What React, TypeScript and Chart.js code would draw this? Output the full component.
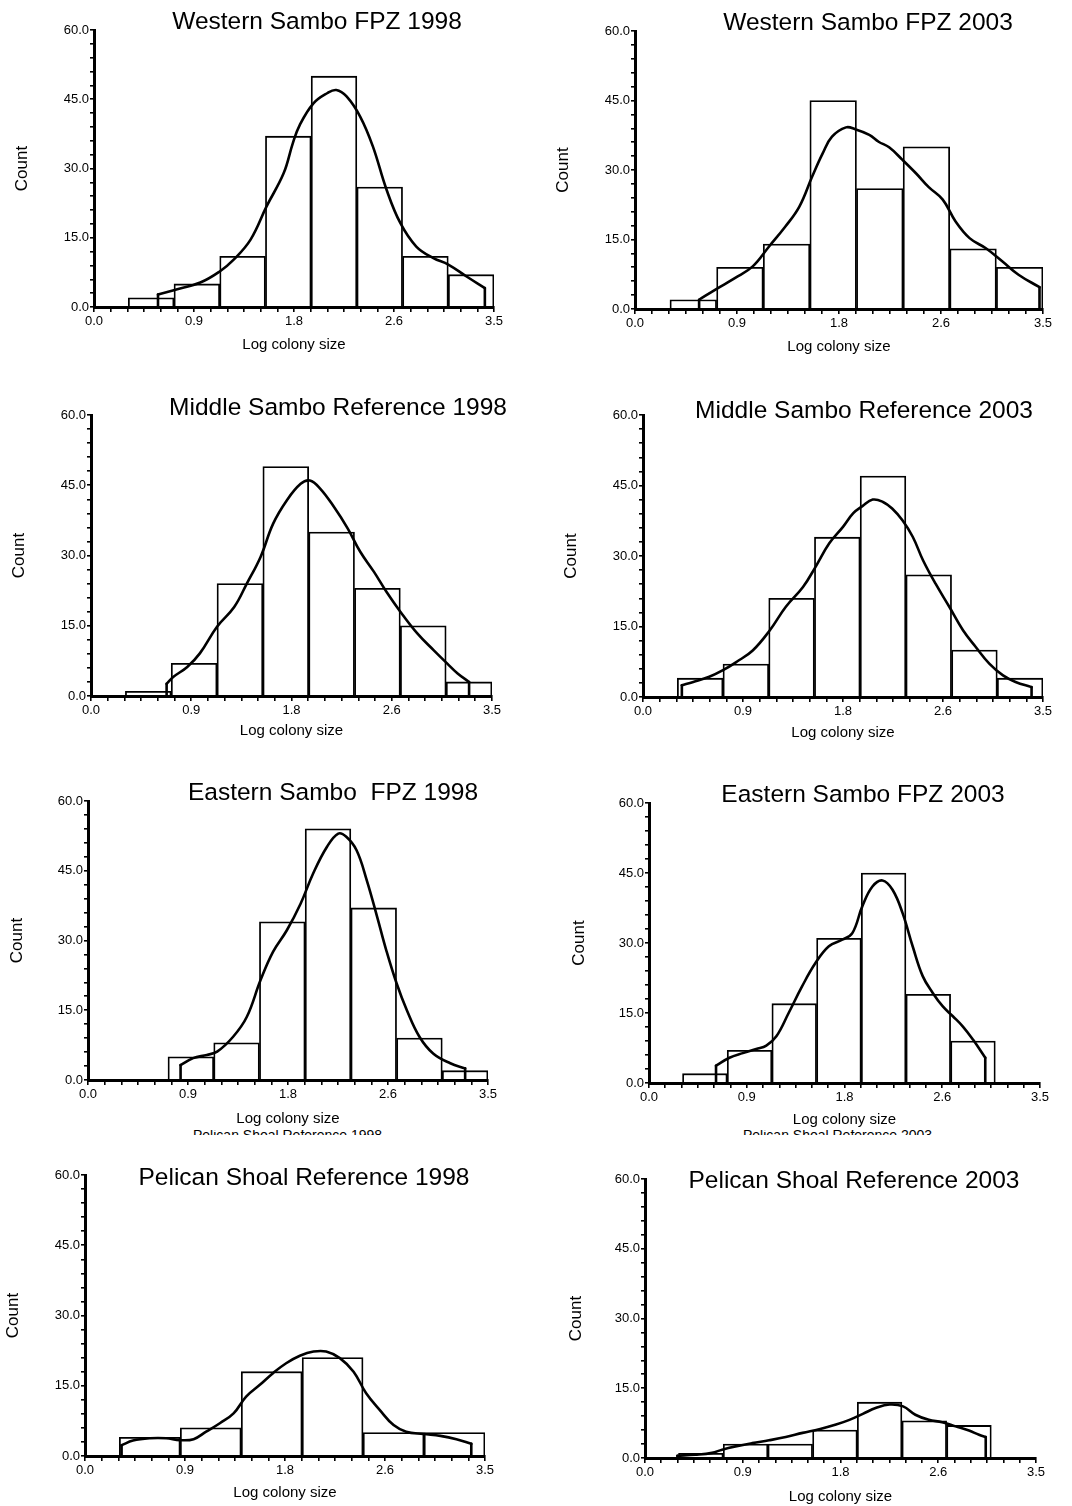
import React, { useEffect, useRef } from "react";
import { Chart, registerables } from "chart.js";

Chart.register(...registerables);
Chart.defaults.font.family = "'Liberation Sans', Arial, Helvetica, sans-serif";
Chart.defaults.color = "#000";

// ---------- data ----------
const BIN_EDGES_8 = [0.3, 0.7, 1.1, 1.5, 1.9, 2.3, 2.7, 3.1, 3.5];
const BIN_EDGES_6 = [0.3, 0.833, 1.367, 1.9, 2.433, 2.967, 3.5];
const X_TICK_LABELS = ["0.0", "0.9", "1.8", "2.6", "3.5"];
const Y_TICK_LABELS = ["0.0", "15.0", "30.0", "45.0", "60.0"];
const X_TITLE = "Log colony size";
const Y_TITLE = "Count";

const TITLES = [
  "Western Sambo FPZ 1998",
  "Western Sambo FPZ 2003",
  "Middle Sambo Reference 1998",
  "Middle Sambo Reference 2003",
  "Eastern Sambo  FPZ 1998",
  "Eastern Sambo FPZ 2003",
  "Pelican Shoal Reference 1998",
  "Pelican Shoal Reference 2003",
];
// captions of the next row, cut off at the bottom of the Eastern Sambo panels
const CUT_CAPTIONS = ["Pelican Shoal Reference 1998", "Pelican Shoal Reference 2003"];

const WS98_COUNTS = [2, 5, 11, 37, 50, 26, 11, 7];
const WS98_CURVE_X = [0.56, 0.69, 0.93, 1.1, 1.22, 1.37, 1.51, 1.66, 1.74, 1.8, 1.92, 2.04, 2.12, 2.21, 2.33, 2.44, 2.56, 2.68, 2.82, 2.97, 3.1, 3.26, 3.42];
const WS98_CURVE_Y = [2.7, 3.6, 5.3, 7.7, 10.2, 14.6, 21.8, 29.0, 35.5, 39.4, 44.1, 46.3, 47.0, 45.6, 41.2, 34.8, 25.4, 18.2, 13.1, 10.6, 9.2, 6.6, 4.1];

const WS03_COUNTS = [2, 9, 14, 45, 26, 35, 13, 9];
const WS03_CURVE_X = [0.55, 0.69, 0.86, 1.01, 1.15, 1.29, 1.41, 1.52, 1.61, 1.69, 1.81, 1.89, 2.01, 2.09, 2.18, 2.29, 2.41, 2.52, 2.64, 2.75, 2.87, 3.01, 3.15, 3.29, 3.47];
const WS03_CURVE_Y = [2.0, 4.2, 6.7, 9.2, 13.5, 17.8, 22.1, 28.6, 33.6, 37.2, 39.2, 38.8, 37.6, 36.1, 34.9, 32.3, 29.3, 26.3, 23.6, 18.9, 15.3, 13.1, 10.3, 7.4, 4.7];

const MS98_COUNTS = [1, 7, 24, 49, 35, 23, 15, 3];
const MS98_CURVE_X = [0.66, 0.72, 0.84, 0.95, 1.1, 1.25, 1.36, 1.48, 1.59, 1.71, 1.83, 1.91, 2.0, 2.12, 2.24, 2.35, 2.47, 2.58, 2.7, 2.85, 2.99, 3.11, 3.2, 3.3];
const MS98_CURVE_Y = [2.6, 4.1, 6.2, 9.1, 14.8, 19.0, 24.0, 29.7, 36.8, 41.8, 45.3, 46.0, 44.3, 40.4, 35.8, 30.8, 26.5, 22.2, 18.0, 13.3, 9.8, 6.9, 4.8, 3.0];

const MS03_COUNTS = [4, 7, 21, 34, 47, 26, 10, 4];
const MS03_CURVE_X = [0.34, 0.44, 0.58, 0.7, 0.82, 0.96, 1.11, 1.25, 1.4, 1.51, 1.63, 1.75, 1.84, 1.92, 2.01, 2.1, 2.18, 2.27, 2.36, 2.45, 2.56, 2.68, 2.8, 2.91, 3.03, 3.15, 3.26, 3.4];
const MS03_CURVE_Y = [2.5, 3.2, 4.3, 5.7, 7.5, 9.9, 14.2, 19.2, 23.4, 27.7, 32.7, 36.2, 39.1, 40.6, 42.0, 41.5, 40.1, 37.6, 34.1, 29.1, 24.1, 19.2, 14.2, 10.7, 7.1, 4.6, 3.2, 2.1];

const ES98_COUNTS = [0, 5, 8, 34, 54, 37, 9, 2];
const ES98_CURVE_X = [0.81, 0.92, 1.04, 1.13, 1.27, 1.39, 1.51, 1.62, 1.74, 1.86, 1.97, 2.09, 2.19, 2.26, 2.35, 2.44, 2.53, 2.61, 2.7, 2.79, 2.9, 3.02, 3.17, 3.3];
const ES98_CURVE_Y = [3.2, 4.7, 5.4, 6.1, 9.3, 13.6, 21.5, 27.6, 32.2, 37.9, 44.4, 50.1, 53.0, 52.3, 49.4, 42.9, 35.1, 27.9, 20.8, 15.0, 9.3, 5.7, 3.6, 2.5];

const ES03_COUNTS = [2, 7, 17, 31, 45, 19, 9, 0];
const ES03_CURVE_X = [0.6, 0.72, 0.84, 0.96, 1.05, 1.14, 1.25, 1.37, 1.49, 1.61, 1.73, 1.82, 1.91, 2.0, 2.09, 2.18, 2.27, 2.36, 2.45, 2.54, 2.63, 2.72, 2.81, 2.9, 3.01];
const ES03_CURVE_Y = [3.7, 5.4, 6.4, 7.3, 8.0, 10.0, 15.0, 20.7, 25.7, 29.3, 30.7, 32.1, 37.9, 42.1, 43.4, 41.4, 36.4, 29.3, 22.9, 19.3, 16.4, 14.3, 12.1, 9.3, 5.4];

const PS98_COUNTS = [4, 6, 18, 21, 5, 5];
const PS98_CURVE_X = [0.32, 0.42, 0.57, 0.71, 0.83, 0.95, 1.06, 1.18, 1.3, 1.41, 1.53, 1.65, 1.76, 1.88, 2.0, 2.11, 2.23, 2.35, 2.46, 2.58, 2.7, 2.81, 2.96, 3.11, 3.25, 3.38];
const PS98_CURVE_Y = [2.3, 3.3, 3.8, 3.8, 3.4, 3.6, 5.2, 7.0, 9.1, 12.7, 15.2, 17.8, 19.8, 21.4, 22.3, 22.3, 20.9, 18.0, 13.4, 9.8, 6.6, 5.2, 4.7, 4.3, 3.6, 2.6];

const PS03_COUNTS = [1, 3, 3, 6, 12, 8, 7, 0];
const PS03_CURVE_X = [0.29, 0.45, 0.6, 0.69, 0.81, 0.96, 1.11, 1.26, 1.41, 1.56, 1.71, 1.83, 1.95, 2.07, 2.19, 2.31, 2.42, 2.54, 2.66, 2.78, 2.9, 2.99, 3.05];
const PS03_CURVE_Y = [0.5, 0.7, 1.1, 1.8, 2.5, 3.2, 3.8, 4.5, 5.4, 6.2, 7.2, 8.2, 9.5, 10.8, 11.5, 11.1, 9.3, 8.2, 7.7, 6.8, 5.9, 5.0, 4.5];

const PANELS = [
  { title: TITLES[0], edges: BIN_EDGES_8, counts: WS98_COUNTS, cx: WS98_CURVE_X, cy: WS98_CURVE_Y },
  { title: TITLES[1], edges: BIN_EDGES_8, counts: WS03_COUNTS, cx: WS03_CURVE_X, cy: WS03_CURVE_Y },
  { title: TITLES[2], edges: BIN_EDGES_8, counts: MS98_COUNTS, cx: MS98_CURVE_X, cy: MS98_CURVE_Y },
  { title: TITLES[3], edges: BIN_EDGES_8, counts: MS03_COUNTS, cx: MS03_CURVE_X, cy: MS03_CURVE_Y },
  { title: TITLES[4], edges: BIN_EDGES_8, counts: ES98_COUNTS, cx: ES98_CURVE_X, cy: ES98_CURVE_Y },
  { title: TITLES[5], edges: BIN_EDGES_8, counts: ES03_COUNTS, cx: ES03_CURVE_X, cy: ES03_CURVE_Y },
  { title: TITLES[6], edges: BIN_EDGES_6, counts: PS98_COUNTS, cx: PS98_CURVE_X, cy: PS98_CURVE_Y },
  { title: TITLES[7], edges: BIN_EDGES_8, counts: PS03_COUNTS, cx: PS03_CURVE_X, cy: PS03_CURVE_Y },
];

// ---------- layout (page pixels) ----------
const LAYOUT = [
  { axisX: 94, top: 30, right: 494, bottom: 307, countX: 22, xLabelY: 345, tx: 317, ty: 22 },
  { axisX: 635, top: 31, right: 1043, bottom: 309, countX: 563, xLabelY: 347, tx: 868, ty: 23 },
  { axisX: 91, top: 415, right: 492, bottom: 696, countX: 19, xLabelY: 731, tx: 338, ty: 408 },
  { axisX: 643, top: 415, right: 1043, bottom: 697, countX: 571, xLabelY: 733, tx: 864, ty: 411 },
  { axisX: 88, top: 801, right: 488, bottom: 1080, countX: 17, xLabelY: 1119, tx: 333, ty: 793 },
  { axisX: 649, top: 803, right: 1040, bottom: 1083, countX: 579, xLabelY: 1120, tx: 863, ty: 795 },
  { axisX: 85, top: 1175, right: 485, bottom: 1456, countX: 13, xLabelY: 1493, tx: 304, ty: 1178 },
  { axisX: 645, top: 1179, right: 1036, bottom: 1458, countX: 576, xLabelY: 1497, tx: 854, ty: 1181 },
];
const CUT_LAYOUT = [
  { left: 193, top: 1130, width: 200 },
  { left: 743, top: 1130, width: 200 },
];

const PT = 28;
const PR = 16;
const Y_TITLE_SIZE = 17;
const X_TITLE_SIZE = 15;
const TICK_SIZE = 13;
const FONT = "'Liberation Sans', Arial, Helvetica, sans-serif";

function geometry(l: any) {
  const canvasLeft = Math.round(l.countX - (Y_TITLE_SIZE * 1.2) / 2);
  const canvasTop = l.top - PT;
  const wy = l.axisX - canvasLeft;
  const hx = Math.round(l.xLabelY + (X_TITLE_SIZE * 1.2) / 2 - l.bottom);
  const width = wy + (l.right - l.axisX) + PR;
  const height = PT + (l.bottom - l.top) + hx;
  return { canvasLeft, canvasTop, wy, hx, width, height };
}

const panelTitlePlugin = {
  id: "panelTitle",
  afterDraw(chart: any, _args: any, opts: any) {
    const ctx = chart.ctx;
    ctx.save();
    ctx.font = `${opts.size}px ${FONT}`;
    ctx.fillStyle = "#000";
    ctx.textAlign = "center";
    ctx.textBaseline = "middle";
    ctx.fillText(opts.text, opts.x, opts.y);
    ctx.restore();
  },
};

function Panel({ spec, layout }: { spec: any; layout: any }) {
  const ref = useRef<HTMLCanvasElement | null>(null);
  const g = geometry(layout);

  useEffect(() => {
    if (!ref.current) return;
    const edges: number[] = spec.edges;
    const centers = edges.slice(0, -1).map((e, i) => (e + edges[i + 1]) / 2);
    const bars = spec.counts.map((c: number, i: number) => ({ x: centers[i], y: c }));
    const curve = spec.cx.map((x: number, i: number) => ({ x, y: spec.cy[i] }));
    const n = curve.length;
    const dropStart = [{ x: spec.cx[0], y: 0 }, curve[0]];
    const dropEnd = [curve[n - 1], { x: spec.cx[n - 1], y: 0 }];

    const lineBase = {
      type: "line" as const,
      xAxisID: "x",
      yAxisID: "y",
      borderColor: "#000",
      borderWidth: 2.6,
      pointRadius: 0,
      fill: false,
      order: 0,
      borderJoinStyle: "round",
      borderCapStyle: "round",
    };

    const chart = new Chart(ref.current, {
      type: "line",
      data: {
        datasets: [
          { ...lineBase, data: curve, tension: 0.4 } as any,
          { ...lineBase, data: dropStart, tension: 0 } as any,
          { ...lineBase, data: dropEnd, tension: 0 } as any,
          {
            type: "bar",
            data: bars,
            xAxisID: "x2",
            yAxisID: "y",
            backgroundColor: "#fff",
            borderColor: "#000",
            borderWidth: 1.8,
            barPercentage: 1,
            categoryPercentage: 1,
            grouped: false,
            order: 1,
          } as any,
        ],
      },
      options: {
        responsive: false,
        animation: false,
        devicePixelRatio: 1,
        events: [],
        layout: { padding: { top: PT, right: PR, left: 0, bottom: 0 } },
        plugins: {
          legend: { display: false },
          tooltip: { enabled: false },
          title: { display: false },
          panelTitle: {
            text: spec.title,
            size: 24.5,
            x: layout.tx - g.canvasLeft,
            y: layout.ty - g.canvasTop,
          },
        } as any,
        scales: {
          x: {
            type: "linear",
            position: "bottom",
            min: 0,
            max: 3.5,
            offset: false,
            afterBuildTicks: (s: any) => {
              s.ticks = Array.from({ length: 25 }, (_, i) => ({ value: (3.5 * i) / 24 }));
            },
            afterFit: (s: any) => {
              s.height = g.hx;
            },
            ticks: {
              autoSkip: false,
              maxRotation: 0,
              minRotation: 0,
              padding: 2,
              color: "#000",
              font: { size: TICK_SIZE },
              callback: (_v: any, i: number) => (i % 6 === 0 ? X_TICK_LABELS[i / 6] : ""),
            },
            grid: {
              drawOnChartArea: false,
              drawTicks: true,
              tickLength: 5,
              color: "#000",
              lineWidth: 1.6,
              offset: false,
            },
            border: { display: true, color: "#000", width: 3, z: 1 },
            title: {
              display: true,
              text: X_TITLE,
              color: "#000",
              font: { size: X_TITLE_SIZE },
              padding: 0,
            },
          } as any,
          x2: {
            type: "linear",
            axis: "x",
            position: "bottom",
            display: false,
            min: 0,
            max: 3.5,
            offset: false,
            afterBuildTicks: (s: any) => {
              s.ticks = [{ value: 0 }, { value: 3.5 }];
            },
          } as any,
          y: {
            type: "linear",
            position: "left",
            min: 0,
            max: 60,
            afterBuildTicks: (s: any) => {
              s.ticks = Array.from({ length: 21 }, (_, i) => ({ value: 3 * i }));
            },
            afterFit: (s: any) => {
              s.width = g.wy;
            },
            ticks: {
              autoSkip: false,
              padding: 1,
              color: "#000",
              font: { size: TICK_SIZE },
              callback: (v: any) => (v % 15 === 0 ? Y_TICK_LABELS[v / 15] : ""),
            },
            grid: {
              drawOnChartArea: false,
              drawTicks: true,
              tickLength: 4,
              color: "#000",
              lineWidth: 1.6,
            },
            border: { display: true, color: "#000", width: 3, z: 1 },
            title: {
              display: true,
              text: Y_TITLE,
              color: "#000",
              font: { size: Y_TITLE_SIZE },
              padding: 0,
            },
          } as any,
        },
      },
      plugins: [panelTitlePlugin as any],
    });
    return () => chart.destroy();
  }, [spec, layout]);

  return (
    <canvas
      ref={ref}
      width={g.width}
      height={g.height}
      style={{
        position: "absolute",
        left: g.canvasLeft,
        top: g.canvasTop,
        width: g.width,
        height: g.height,
        display: "block",
      }}
    />
  );
}

export default function App() {
  return (
    <div
      style={{
        position: "absolute",
        left: 0,
        top: 0,
        width: 1072,
        height: 1506,
        overflow: "hidden",
        background: "#fff",
      }}
    >
      {PANELS.map((p, i) => (
        <Panel key={i} spec={p} layout={LAYOUT[i]} />
      ))}
      {CUT_CAPTIONS.map((t, i) => (
        <div
          key={"cut" + i}
          style={{
            position: "absolute",
            left: CUT_LAYOUT[i].left,
            top: CUT_LAYOUT[i].top,
            width: CUT_LAYOUT[i].width,
            height: 5,
            overflow: "hidden",
          }}
        >
          <div
            style={{
              position: "absolute",
              left: 0,
              top: -2,
              fontFamily: FONT,
              fontSize: 14,
              lineHeight: "14px",
              whiteSpace: "nowrap",
              color: "#000",
            }}
          >
            {t}
          </div>
        </div>
      ))}
    </div>
  );
}
